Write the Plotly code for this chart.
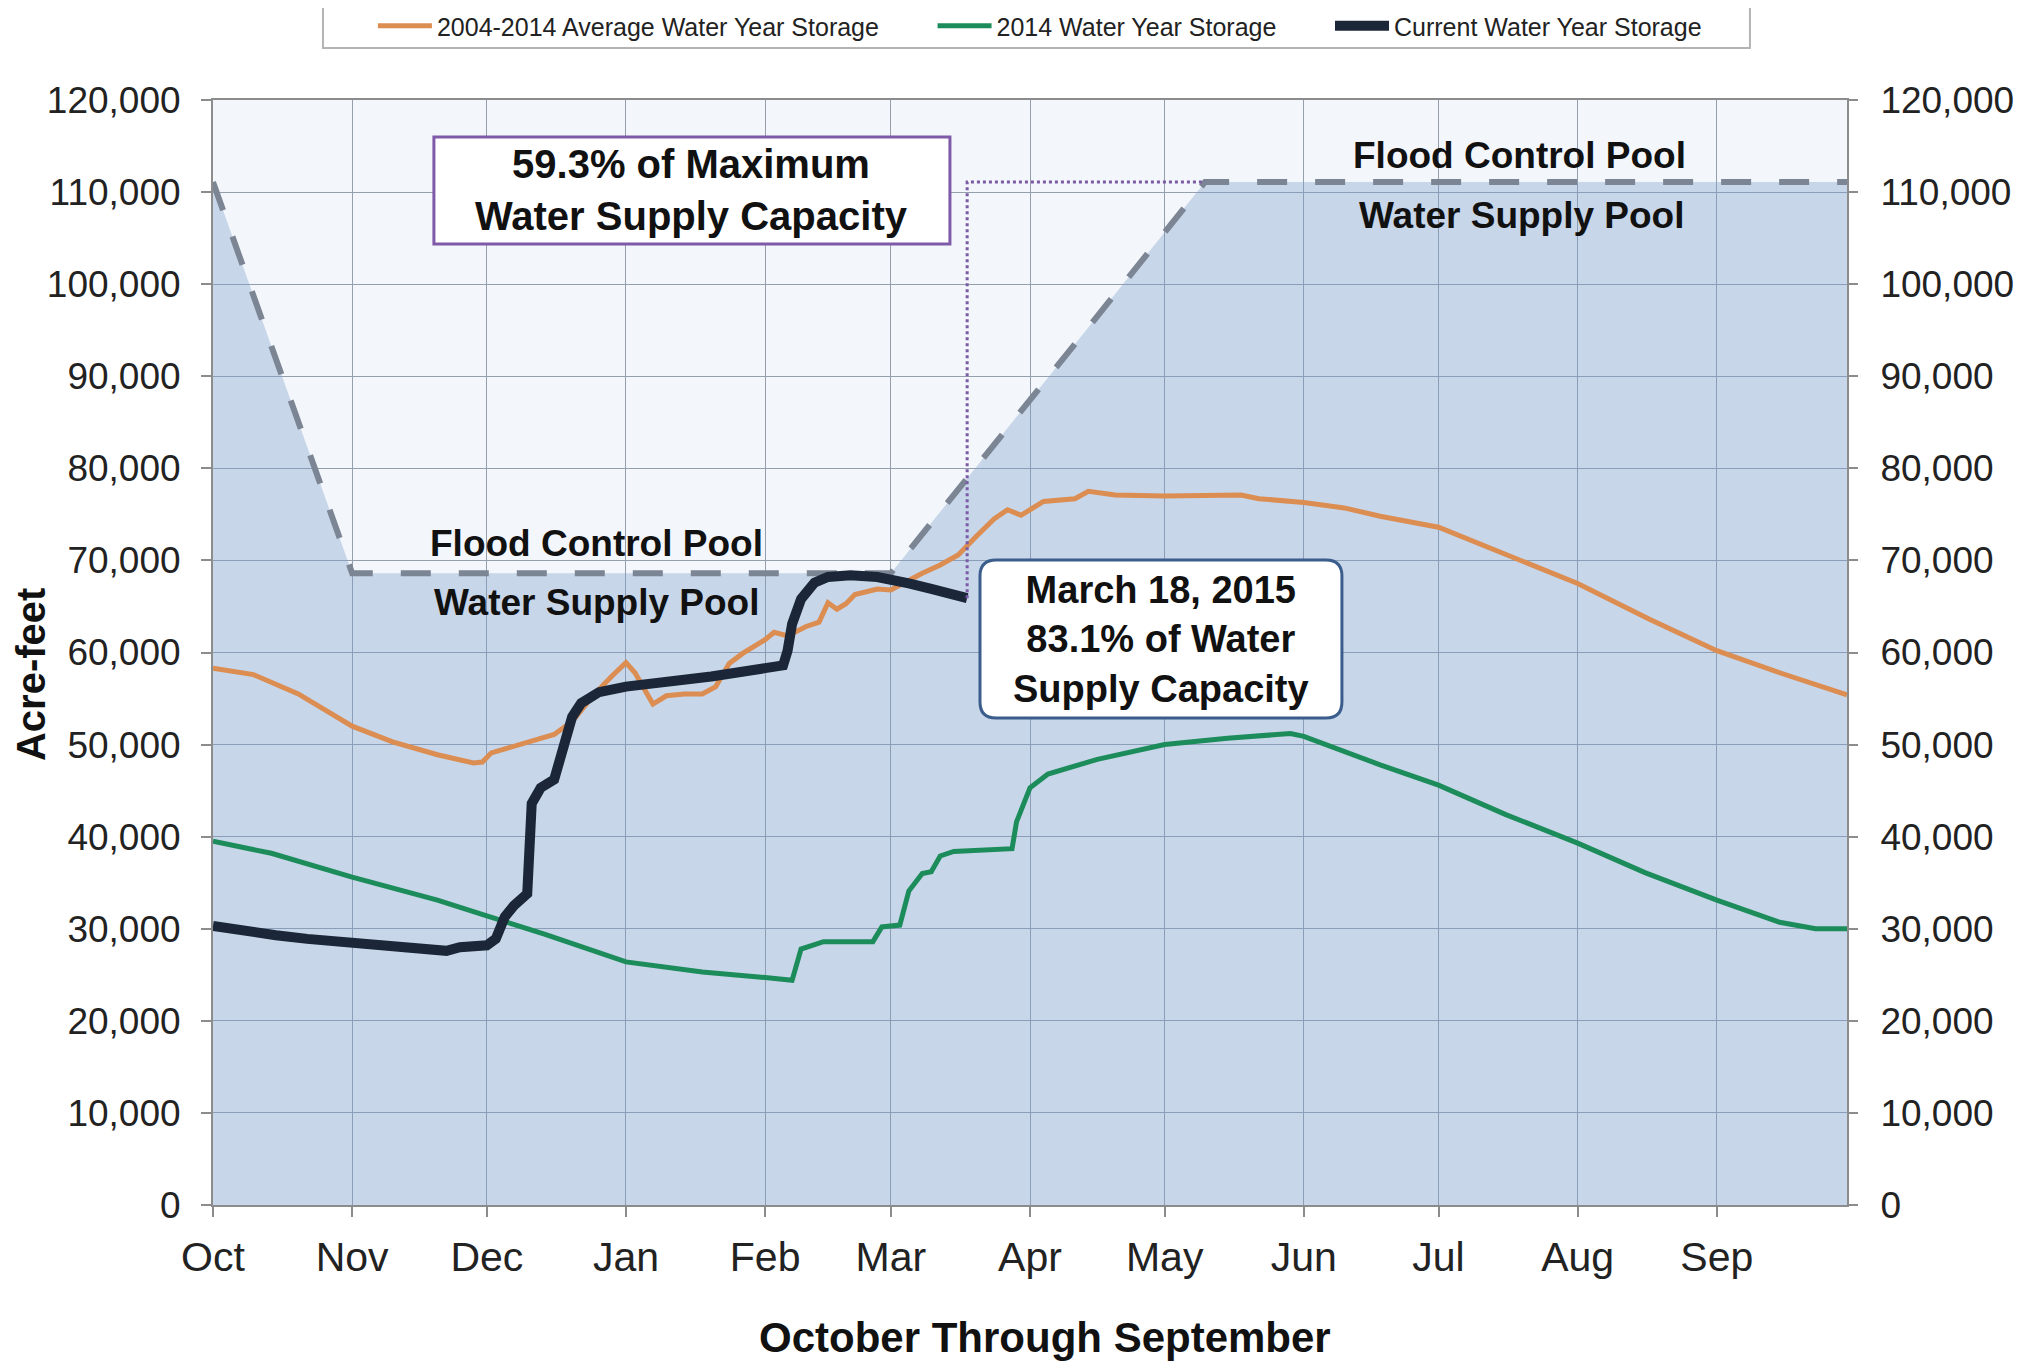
import plotly.graph_objects as go

# ---------------- data ----------------
rule_dates = ["2014-10-01", "2014-11-01", "2015-03-01", "2015-05-10", "2015-09-30"]
rule_vals = [111100, 68600, 68600, 111100, 111100]

avg_dates = ["2014-10-01", "2014-10-10", "2014-10-20", "2014-11-01", "2014-11-10", "2014-11-20",
             "2014-11-28", "2014-11-30", "2014-12-02", "2014-12-06", "2014-12-12", "2014-12-16",
             "2014-12-20", "2014-12-25", "2014-12-29", "2015-01-01", "2015-01-03", "2015-01-07",
             "2015-01-10", "2015-01-14", "2015-01-18", "2015-01-21", "2015-01-24", "2015-01-27",
             "2015-02-01", "2015-02-03", "2015-02-06", "2015-02-10", "2015-02-13", "2015-02-15",
             "2015-02-17", "2015-02-19", "2015-02-21", "2015-02-26", "2015-03-01", "2015-03-04",
             "2015-03-08", "2015-03-12", "2015-03-16", "2015-03-20", "2015-03-24", "2015-03-27",
             "2015-03-30", "2015-04-04", "2015-04-11", "2015-04-14", "2015-04-20", "2015-05-01",
             "2015-05-18", "2015-05-22", "2015-06-01", "2015-06-10", "2015-06-18", "2015-07-01",
             "2015-07-14", "2015-08-01", "2015-08-17", "2015-09-01", "2015-09-15", "2015-09-30"]
avg_vals = [58300, 57600, 55500, 52000, 50300, 48900,
            48000, 48100, 49100, 49700, 50500, 51100,
            52500, 55500, 57500, 58900, 57800, 54400,
            55300, 55500, 55500, 56300, 58800, 59900,
            61400, 62200, 61800, 62800, 63300, 65400,
            64700, 65300, 66300, 66900, 66800, 67600,
            68600, 69500, 70600, 72600, 74500, 75500,
            74900, 76400, 76700, 77500, 77100, 77000,
            77100, 76700, 76300, 75700, 74800, 73600,
            71100, 67500, 63600, 60200, 57800, 55400]

wy2014_dates = ["2014-10-01", "2014-10-14", "2014-11-01", "2014-11-20", "2014-12-01", "2014-12-14",
                "2015-01-01", "2015-01-18", "2015-02-01", "2015-02-07", "2015-02-09", "2015-02-14",
                "2015-02-25", "2015-02-27", "2015-03-03", "2015-03-05", "2015-03-08", "2015-03-10",
                "2015-03-12", "2015-03-15", "2015-03-28", "2015-03-29", "2015-04-01", "2015-04-05",
                "2015-04-16", "2015-05-01", "2015-05-15", "2015-05-29", "2015-06-01", "2015-06-18",
                "2015-07-01", "2015-07-16", "2015-08-01", "2015-08-16", "2015-09-01", "2015-09-15",
                "2015-09-23", "2015-09-30"]
wy2014_vals = [39500, 38200, 35600, 33100, 31400, 29400,
               26400, 25300, 24700, 24400, 27800, 28600,
               28600, 30200, 30400, 34100, 36000, 36200,
               37900, 38400, 38700, 41600, 45300, 46800,
               48400, 50000, 50700, 51200, 50900, 47800,
               45600, 42400, 39300, 36100, 33100, 30700,
               30000, 30000]

cur_dates = ["2014-10-01", "2014-10-08", "2014-10-15", "2014-10-22", "2014-11-01", "2014-11-10",
             "2014-11-18", "2014-11-22", "2014-11-25", "2014-12-01", "2014-12-03", "2014-12-05",
             "2014-12-07", "2014-12-09", "2014-12-10", "2014-12-11", "2014-12-13", "2014-12-16",
             "2014-12-18", "2014-12-20", "2014-12-22", "2014-12-26", "2015-01-01", "2015-01-10",
             "2015-01-20", "2015-02-01", "2015-02-05", "2015-02-06", "2015-02-07", "2015-02-09",
             "2015-02-12", "2015-02-15", "2015-02-20", "2015-02-26", "2015-03-01", "2015-03-05",
             "2015-03-10", "2015-03-14", "2015-03-18"]
cur_vals = [30300, 29700, 29300, 28900, 28400, 28100,
            27800, 27600, 28000, 28200, 28900, 31300,
            32500, 33300, 33800, 43600, 45300, 46200,
            49700, 53000, 54500, 55700, 56300, 56800,
            57400, 58300, 58600, 60200, 63100, 65800,
            67600, 68200, 68400, 68200, 68000, 67500,
            66900, 66400, 65900]

marker_dates = ["2015-03-18", "2015-03-18", "2015-05-10"]
marker_vals = [65900, 111100, 111100]

y_ticks = [0, 10000, 20000, 30000, 40000, 50000, 60000, 70000, 80000, 90000, 100000, 110000, 120000]

FONT = "Liberation Sans, Arial, sans-serif"
NB = "\u00a0"

fig = go.Figure()

# Flood control rule curve with fill below (water supply pool)
fig.add_trace(go.Scatter(
    x=rule_dates, y=rule_vals, mode="lines", fill="tozeroy",
    fillcolor="rgba(123,157,202,0.36)",
    line=dict(color="#7b8594", width=6, dash="30px,28px"),
    showlegend=False, hoverinfo="skip"))

fig.add_trace(go.Scatter(
    x=avg_dates, y=avg_vals, mode="lines",
    name="2004-2014 Average Water Year Storage" + NB * 7,
    line=dict(color="#dc8d52", width=5)))

fig.add_trace(go.Scatter(
    x=wy2014_dates, y=wy2014_vals, mode="lines",
    name="2014 Water Year Storage" + NB * 7,
    line=dict(color="#1d8c5b", width=5)))

fig.add_trace(go.Scatter(
    x=cur_dates, y=cur_vals, mode="lines",
    name="Current Water Year Storage",
    line=dict(color="#1b2638", width=10)))

# dotted marker line (on the right-hand axis, same scale)
fig.add_trace(go.Scatter(
    x=marker_dates, y=marker_vals, mode="lines", yaxis="y2",
    line=dict(color="#7b5aa6", width=3, dash="dot"),
    showlegend=False, hoverinfo="skip"))

grid = "#959eac"
fig.update_layout(
    width=2024, height=1354,
    margin=dict(l=205, r=185, t=92, b=157),
    paper_bgcolor="white",
    plot_bgcolor="#f3f6fb",
    font=dict(family=FONT, color="#222222"),
    showlegend=True,
    legend=dict(orientation="h", xref="container", yref="container",
                x=0.1803, xanchor="left", y=0.9867, yanchor="middle",
                bgcolor="rgba(0,0,0,0)", borderwidth=0, itemwidth=54,
                font=dict(size=25, color="#222222", family=FONT)),
    xaxis=dict(type="date", range=["2014-10-01", "2015-09-30"],
               tick0="2014-10-01", dtick="M1", tickformat="%b",
               showgrid=True, gridcolor=grid, gridwidth=1.2,
               showline=True, linecolor="#8c8c8c", linewidth=2, mirror=True,
               ticks="outside", ticklen=10, tickwidth=1.5, tickcolor="#8c8c8c",
               ticklabelstandoff=5,
               tickfont=dict(size=41, color="#222222", family=FONT),
               automargin=False, zeroline=False),
    yaxis=dict(range=[0, 120000], tickvals=y_ticks, tickformat=",d",
               showgrid=True, gridcolor=grid, gridwidth=1.2,
               showline=True, linecolor="#8c8c8c", linewidth=2, mirror=True,
               ticks="outside", ticklen=10, tickwidth=1.5, tickcolor="#8c8c8c",
               ticklabelstandoff=13,
               tickfont=dict(size=37, color="#222222", family=FONT),
               automargin=False, zeroline=False),
    yaxis2=dict(range=[0, 120000], tickvals=y_ticks, tickformat=",d",
                overlaying="y", side="right", showgrid=False, zeroline=False,
                ticks="outside", ticklen=10, tickwidth=1.5, tickcolor="#8c8c8c",
                ticklabelstandoff=15,
                tickfont=dict(size=37, color="#222222", family=FONT),
                automargin=False),
)

# Legend frame
fig.add_shape(type="rect", xref="paper", yref="paper",
              x0=0.0673, x1=0.9406, y0=1.0471, y1=1.0846,
              line=dict(color="#b4b4b4", width=2), fillcolor="white", layer="above")

# Box 1 (purple square)
fig.add_shape(type="rect", xref="paper", yref="paper",
              x0=0.1352, x1=0.4510, y0=0.8697, y1=0.9665,
              line=dict(color="#7e5aa8", width=3), fillcolor="white", layer="above")
fig.add_annotation(xref="paper", yref="paper", x=0.2931, y=0.9181,
                   xanchor="center", yanchor="middle",
                   text="<b>59.3% of Maximum<br>Water Supply Capacity</b>",
                   showarrow=False, font=dict(size=40, color="#111111", family=FONT))

# Box 2 (rounded)
x0, x1, y0, y1 = 0.4694, 0.6909, 0.4407, 0.5837
rx, ry = 0.0098, 0.0145
path = (f"M {x0+rx},{y1} L {x1-rx},{y1} Q {x1},{y1} {x1},{y1-ry} "
        f"L {x1},{y0+ry} Q {x1},{y0} {x1-rx},{y0} L {x0+rx},{y0} "
        f"Q {x0},{y0} {x0},{y0+ry} L {x0},{y1-ry} Q {x0},{y1} {x0+rx},{y1} Z")
fig.add_shape(type="path", xref="paper", yref="paper", path=path,
              line=dict(color="#3b5d8c", width=3), fillcolor="white", layer="above")
fig.add_annotation(xref="paper", yref="paper", x=0.5802, y=0.5122,
                   xanchor="center", yanchor="middle",
                   text="<b>March 18, 2015<br>83.1% of Water<br>Supply Capacity</b>",
                   showarrow=False, font=dict(size=38, color="#111111", family=FONT))

# Pool labels
for txt, px, py in [("Flood Control Pool", 0.2350, 0.5982),
                    ("Water Supply Pool", 0.2350, 0.5448),
                    ("Flood Control Pool", 0.7993, 0.9502),
                    ("Water Supply Pool", 0.8005, 0.8959)]:
    fig.add_annotation(xref="paper", yref="paper", x=px, y=py, text=f"<b>{txt}</b>",
                       xanchor="center", yanchor="middle",
                       showarrow=False, font=dict(size=37, color="#111111", family=FONT))

# Axis titles
fig.add_annotation(xref="paper", yref="paper", x=-0.1114, y=0.4805, textangle=-90,
                   xanchor="center", yanchor="middle",
                   text="<b>Acre-feet</b>", showarrow=False,
                   font=dict(size=40, color="#111111", family=FONT))
fig.add_annotation(xref="paper", yref="paper", x=0.509, y=-0.1195,
                   xanchor="center", yanchor="middle",
                   text="<b>October Through September</b>", showarrow=False,
                   font=dict(size=42, color="#111111", family=FONT))

fig.write_html("out.html")
